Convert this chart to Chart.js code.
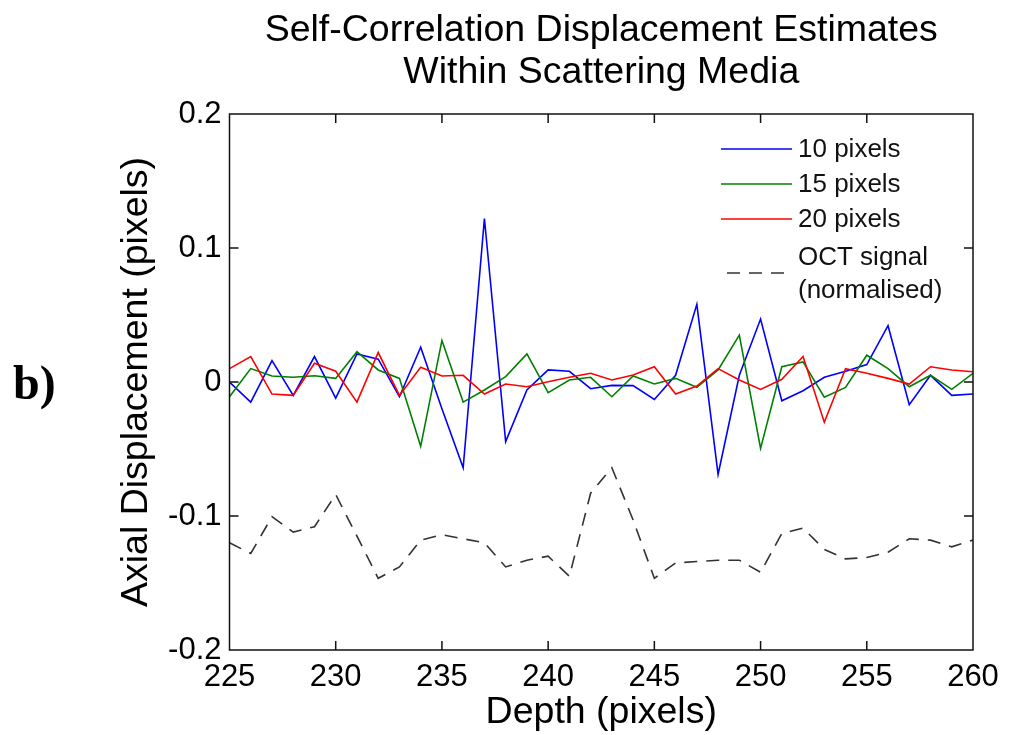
<!DOCTYPE html>
<html><head><meta charset="utf-8">
<script src="https://cdn.jsdelivr.net/npm/chart.js@4.4.1/dist/chart.umd.min.js"></script>
<style>html,body{margin:0;padding:0;background:#fff;overflow:hidden}#wrap{width:1009px;height:735px;position:relative}canvas{display:block}</style>
</head><body><div id="wrap"><canvas id="c" width="1009" height="735"></canvas></div>
<script>
const depth = [225,226,227,228,229,230,231,232,233,234,235,236,237,238,239,240,241,242,243,244,245,246,247,248,249,250,251,252,253,254,255,256,257,258,259,260];
const disp10 = [0.0,-0.015,0.016,-0.010,0.019,-0.012,0.021,0.017,-0.011,0.026,-0.020,-0.064,0.122,-0.0445,-0.006,0.009,0.008,-0.005,-0.0025,-0.0027,-0.013,0.005,0.058,-0.069,0.005,0.047,-0.014,-0.0065,0.0035,0.008,0.013,0.042,-0.017,0.005,-0.010,-0.009];
const disp15 = [-0.011,0.010,0.0045,0.0035,0.0047,0.0027,0.0226,0.009,0.0027,-0.048,0.031,-0.015,-0.006,0.004,0.021,-0.008,0.0015,0.0035,-0.011,0.0045,-0.0015,0.0027,-0.004,0.009,0.035,-0.0495,0.0114,0.015,-0.0114,-0.004,0.020,0.010,-0.0035,0.005,-0.0055,0.0065];
const disp20 = [0.010,0.019,-0.009,-0.010,0.014,0.008,-0.015,0.022,-0.010,0.011,0.0045,0.005,-0.009,-0.0015,-0.0035,0.0002,0.0035,0.0065,0.0015,0.0052,0.0114,-0.009,-0.003,0.010,0.0015,-0.0055,0.002,0.019,-0.030,0.010,0.0065,0.0027,-0.0015,0.0114,0.009,0.0077];
const octSignal = [-0.120,-0.128,-0.1005,-0.112,-0.108,-0.084,-0.115,-0.1465,-0.138,-0.118,-0.114,-0.117,-0.120,-0.138,-0.133,-0.130,-0.145,-0.083,-0.064,-0.103,-0.1465,-0.135,-0.134,-0.133,-0.133,-0.142,-0.113,-0.109,-0.125,-0.132,-0.131,-0.127,-0.117,-0.118,-0.123,-0.118];
const seriesLabels = ['10 pixels','15 pixels','20 pixels','OCT signal (normalised)'];
const legendLines = [['10 pixels'],['15 pixels'],['20 pixels'],['OCT signal','(normalised)']];
const xTickValues = [225,230,235,240,245,250,255,260];
const yTickValues = [-0.2,-0.1,0,0.1,0.2];
const yTickLabels = ['-0.2','-0.1','0','0.1','0.2'];
const chartTitle = ['Self-Correlation Displacement Estimates','Within Scattering Media'];
const xTitle = 'Depth (pixels)';
const yTitle = 'Axial Displacement (pixels)';
const panelLabel = 'b)';

const FONT = '"Liberation Sans", Arial, Helvetica, sans-serif';
const pts = arr => depth.map((d,i)=>({x:d,y:arr[i]}));

const framePlugin = {
  id:'frame',
  afterDatasetsDraw(chart){
    const {ctx, chartArea:a, scales:{x,y}} = chart;
    ctx.save();
    ctx.strokeStyle='#111'; ctx.lineWidth=1.5;
    ctx.strokeRect(a.left,a.top,a.right-a.left,a.bottom-a.top);
    const L=9;
    ctx.beginPath();
    x.ticks.forEach(t=>{const p=x.getPixelForValue(t.value); if(p<=a.left+1||p>=a.right-1)return;
      ctx.moveTo(p,a.bottom);ctx.lineTo(p,a.bottom-L);ctx.moveTo(p,a.top);ctx.lineTo(p,a.top+L);});
    y.ticks.forEach(t=>{const p=y.getPixelForValue(t.value); if(p<=a.top+1||p>=a.bottom-1)return;
      ctx.moveTo(a.left,p);ctx.lineTo(a.left+L,p);ctx.moveTo(a.right,p);ctx.lineTo(a.right-L,p);});
    ctx.stroke();
    ctx.restore();
  }
};

const legendPlugin = {
  id:'customLegend',
  afterDraw(chart){
    const ctx = chart.ctx;
    const rows = [150,185,220,258];
    ctx.save();
    ctx.font = '26px ' + FONT;
    ctx.textBaseline='middle'; ctx.textAlign='left'; ctx.fillStyle='#111';
    chart.data.datasets.forEach((ds,i)=>{
      const lines = legendLines[i];
      const yLine = lines.length>1 ? rows[i]+15 : rows[i]-1;
      ctx.strokeStyle = ds.borderColor; ctx.lineWidth = ds.borderWidth;
      ctx.setLineDash(ds.borderDash||[]);
      const x0 = ds.borderDash ? 727 : 721;
      ctx.beginPath(); ctx.moveTo(x0,yLine); ctx.lineTo(792,yLine); ctx.stroke();
      ctx.setLineDash([]);
      lines.forEach((t,k)=>ctx.fillText(t,798,rows[i]+k*33));
    });
    ctx.font = 'bold 48px "Liberation Serif", "Times New Roman", serif';
    ctx.textBaseline='alphabetic';
    ctx.fillStyle='#000';
    ctx.fillText(panelLabel, 13, 399);
    ctx.restore();
  }
};

new Chart(document.getElementById('c'), {
  type:'line',
  data:{
    datasets:[
      {label:seriesLabels[0], data:pts(disp10), borderColor:'#0000ff', borderWidth:1.6, pointRadius:0, tension:0, fill:false, order:4},
      {label:seriesLabels[1], data:pts(disp15), borderColor:'#008000', borderWidth:1.6, pointRadius:0, tension:0, fill:false, order:3},
      {label:seriesLabels[2], data:pts(disp20), borderColor:'#ff0000', borderWidth:1.6, pointRadius:0, tension:0, fill:false, order:2},
      {label:seriesLabels[3], data:pts(octSignal), borderColor:'#333333', borderWidth:1.6, borderDash:[13,9], pointRadius:0, tension:0, fill:false, order:1}
    ]
  },
  options:{
    responsive:false, animation:false, devicePixelRatio:1,
    layout:{padding:{left:0,right:36,top:0,bottom:0}},
    plugins:{
      legend:{display:false}, tooltip:{enabled:false},
      title:{display:true, fullSize:false, text:chartTitle, color:'#000', font:{family:FONT,size:37.5,weight:'normal',lineHeight:1.12}, padding:{top:10,bottom:20}}
    },
    scales:{
      x:{type:'linear', min:225, max:260,
        afterBuildTicks:s=>{s.ticks = xTickValues.map(v=>({value:v}));},
        afterFit:s=>{s.height=85;},
        grid:{display:false, drawTicks:false}, border:{display:false},
        ticks:{font:{family:FONT,size:31}, color:'#000', padding:9, maxRotation:0, autoSkip:false, callback:v=>String(v)},
        title:{display:true, text:xTitle, color:'#000', font:{family:FONT,size:37.5,lineHeight:1.2}, padding:{top:0,bottom:0}}
      },
      y:{type:'linear', min:-0.2, max:0.2,
        afterBuildTicks:s=>{s.ticks = yTickValues.map(v=>({value:v}));},
        afterFit:s=>{s.width=229.5;},
        grid:{display:false, drawTicks:false}, border:{display:false},
        ticks:{font:{family:FONT,size:31}, color:'#000', padding:8, autoSkip:false,
          callback:v=>{const i=yTickValues.findIndex(t=>Math.abs(t-v)<1e-9); return i>=0?yTickLabels[i]:'';}},
        title:{display:true, text:yTitle, color:'#000', font:{family:FONT,size:37.5,lineHeight:1.2}, padding:{top:114.5,bottom:0}}
      }
    }
  },
  plugins:[framePlugin, legendPlugin]
});
</script>
</body></html>
